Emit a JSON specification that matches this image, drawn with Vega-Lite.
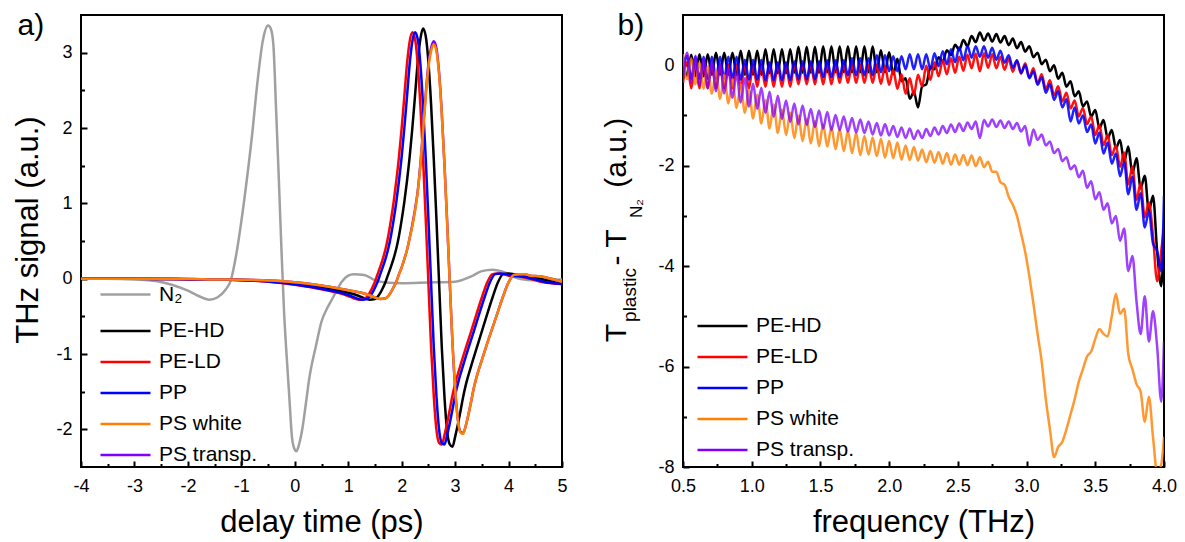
{
"$schema":"https://vega.github.io/schema/vega-lite/v6.json",
"padding":{"left":11,"top":9,"right":2,"bottom":2},
"config":{
 "font":"Liberation Sans",
 "locale":{"number":{"decimal":".","thousands":",","grouping":[3],"currency":["",""],"minus":"-"}},
 "view":{"stroke":"#000000","strokeWidth":2},
 "axis":{"grid":false,"domain":false,"tickColor":"#000000","tickWidth":2,"tickSize":-6,"labelFontSize":18,"labelColor":"#000000","labelFont":"Liberation Sans","titleFont":"Liberation Sans","titleFontSize":31,"titleFontWeight":"normal","titleColor":"#000000","labelFlush":false,"labelOverlap":false},
 "axisX":{"labelPadding":16},
 "axisY":{"labelPadding":15},
 "legend":{"orient":"none","title":null,"symbolType":"stroke","symbolSize":2500,"symbolStrokeWidth":2.5,"clipHeight":19,"labelFontSize":21,"labelFont":"Liberation Sans","labelColor":"#000000","rowPadding":9,"labelOffset":7,"padding":0,"labelLimit":300}
},
"spacing":31,
"hconcat":[
{
 "width":481,"height":452,
 "data":{"values":[
{"s":"N\u2082","t":-4,"v":0},{"s":"N\u2082","t":-3.5,"v":0},{"s":"N\u2082","t":-3,"v":-0.01},{"s":"N\u2082","t":-2.6,"v":-0.03},{"s":"N\u2082","t":-2.3,"v":-0.08},{"s":"N\u2082","t":-2,"v":-0.16},{"s":"N\u2082","t":-1.8,"v":-0.23},{"s":"N\u2082","t":-1.6,"v":-0.28},{"s":"N\u2082","t":-1.45,"v":-0.25},{"s":"N\u2082","t":-1.3,"v":-0.15},{"s":"N\u2082","t":-1.2,"v":-0.03},{"s":"N\u2082","t":-1.1,"v":0.3},{"s":"N\u2082","t":-1,"v":0.76},{"s":"N\u2082","t":-0.9,"v":1.3},{"s":"N\u2082","t":-0.8,"v":1.9},{"s":"N\u2082","t":-0.7,"v":2.6},{"s":"N\u2082","t":-0.6,"v":3.15},{"s":"N\u2082","t":-0.5,"v":3.36},{"s":"N\u2082","t":-0.45,"v":3.32},{"s":"N\u2082","t":-0.4,"v":3.1},{"s":"N\u2082","t":-0.35,"v":2.25},{"s":"N\u2082","t":-0.3,"v":1.35},{"s":"N\u2082","t":-0.25,"v":0.4},{"s":"N\u2082","t":-0.2,"v":-0.45},{"s":"N\u2082","t":-0.15,"v":-1.05},{"s":"N\u2082","t":-0.1,"v":-1.6},{"s":"N\u2082","t":-0.05,"v":-2.12},{"s":"N\u2082","t":0,"v":-2.27},{"s":"N\u2082","t":0.03,"v":-2.29},{"s":"N\u2082","t":0.08,"v":-2.2},{"s":"N\u2082","t":0.14,"v":-2.0},{"s":"N\u2082","t":0.2,"v":-1.7},{"s":"N\u2082","t":0.27,"v":-1.33},{"s":"N\u2082","t":0.4,"v":-0.88},{"s":"N\u2082","t":0.5,"v":-0.57},{"s":"N\u2082","t":0.6,"v":-0.4},{"s":"N\u2082","t":0.7,"v":-0.27},{"s":"N\u2082","t":0.88,"v":-0.04},{"s":"N\u2082","t":1.0,"v":0.04},{"s":"N\u2082","t":1.1,"v":0.06},{"s":"N\u2082","t":1.3,"v":0.05},{"s":"N\u2082","t":1.5,"v":-0.02},{"s":"N\u2082","t":1.7,"v":-0.05},{"s":"N\u2082","t":2,"v":-0.06},{"s":"N\u2082","t":2.5,"v":-0.05},{"s":"N\u2082","t":3,"v":-0.04},{"s":"N\u2082","t":3.3,"v":0.03},{"s":"N\u2082","t":3.5,"v":0.1},{"s":"N\u2082","t":3.7,"v":0.12},{"s":"N\u2082","t":3.9,"v":0.09},{"s":"N\u2082","t":4.2,"v":0},{"s":"N\u2082","t":4.5,"v":-0.02},{"s":"N\u2082","t":5,"v":-0.01},
{"s":"PE-HD","t":-4,"v":0},{"s":"PE-HD","t":-2.8,"v":0},{"s":"PE-HD","t":-1.8,"v":-0.01},{"s":"PE-HD","t":-0.8,"v":-0.02},{"s":"PE-HD","t":-0.3,"v":-0.04},{"s":"PE-HD","t":0.2,"v":-0.08},{"s":"PE-HD","t":0.7,"v":-0.14},{"s":"PE-HD","t":1.2,"v":-0.23},{"s":"PE-HD","t":1.3,"v":-0.26},{"s":"PE-HD","t":1.4,"v":-0.28},{"s":"PE-HD","t":1.5,"v":-0.27},{"s":"PE-HD","t":1.55,"v":-0.24},{"s":"PE-HD","t":1.6,"v":-0.19},{"s":"PE-HD","t":1.65,"v":-0.12},{"s":"PE-HD","t":1.7,"v":-0.04},{"s":"PE-HD","t":1.75,"v":0.06},{"s":"PE-HD","t":1.8,"v":0.16},{"s":"PE-HD","t":1.85,"v":0.27},{"s":"PE-HD","t":1.9,"v":0.4},{"s":"PE-HD","t":1.95,"v":0.57},{"s":"PE-HD","t":2,"v":0.78},{"s":"PE-HD","t":2.05,"v":1.02},{"s":"PE-HD","t":2.1,"v":1.3},{"s":"PE-HD","t":2.15,"v":1.62},{"s":"PE-HD","t":2.2,"v":2.0},{"s":"PE-HD","t":2.25,"v":2.43},{"s":"PE-HD","t":2.3,"v":2.87},{"s":"PE-HD","t":2.35,"v":3.18},{"s":"PE-HD","t":2.4,"v":3.32},{"s":"PE-HD","t":2.45,"v":3.22},{"s":"PE-HD","t":2.5,"v":2.88},{"s":"PE-HD","t":2.55,"v":2.32},{"s":"PE-HD","t":2.6,"v":1.6},{"s":"PE-HD","t":2.65,"v":0.8},{"s":"PE-HD","t":2.7,"v":-0.05},{"s":"PE-HD","t":2.75,"v":-0.9},{"s":"PE-HD","t":2.8,"v":-1.56},{"s":"PE-HD","t":2.85,"v":-2.02},{"s":"PE-HD","t":2.9,"v":-2.2},{"s":"PE-HD","t":2.95,"v":-2.23},{"s":"PE-HD","t":3,"v":-2.1},{"s":"PE-HD","t":3.05,"v":-1.94},{"s":"PE-HD","t":3.1,"v":-1.76},{"s":"PE-HD","t":3.15,"v":-1.57},{"s":"PE-HD","t":3.2,"v":-1.41},{"s":"PE-HD","t":3.3,"v":-1.16},{"s":"PE-HD","t":3.4,"v":-0.93},{"s":"PE-HD","t":3.5,"v":-0.7},{"s":"PE-HD","t":3.6,"v":-0.47},{"s":"PE-HD","t":3.7,"v":-0.25},{"s":"PE-HD","t":3.8,"v":-0.05},{"s":"PE-HD","t":3.9,"v":0.06},{"s":"PE-HD","t":4,"v":0.07},{"s":"PE-HD","t":4.1,"v":0.06},{"s":"PE-HD","t":4.2,"v":0.04},{"s":"PE-HD","t":4.4,"v":0.03},{"s":"PE-HD","t":4.6,"v":0},{"s":"PE-HD","t":4.8,"v":-0.04},{"s":"PE-HD","t":5,"v":-0.06},
{"s":"PE-LD","t":-4,"v":0},{"s":"PE-LD","t":-3,"v":0},{"s":"PE-LD","t":-2,"v":-0.01},{"s":"PE-LD","t":-1,"v":-0.02},{"s":"PE-LD","t":-0.5,"v":-0.04},{"s":"PE-LD","t":0,"v":-0.08},{"s":"PE-LD","t":0.5,"v":-0.14},{"s":"PE-LD","t":1,"v":-0.23},{"s":"PE-LD","t":1.1,"v":-0.26},{"s":"PE-LD","t":1.2,"v":-0.28},{"s":"PE-LD","t":1.3,"v":-0.27},{"s":"PE-LD","t":1.35,"v":-0.24},{"s":"PE-LD","t":1.4,"v":-0.19},{"s":"PE-LD","t":1.45,"v":-0.12},{"s":"PE-LD","t":1.5,"v":-0.04},{"s":"PE-LD","t":1.55,"v":0.06},{"s":"PE-LD","t":1.6,"v":0.16},{"s":"PE-LD","t":1.65,"v":0.27},{"s":"PE-LD","t":1.7,"v":0.4},{"s":"PE-LD","t":1.75,"v":0.57},{"s":"PE-LD","t":1.8,"v":0.78},{"s":"PE-LD","t":1.85,"v":1.02},{"s":"PE-LD","t":1.9,"v":1.3},{"s":"PE-LD","t":1.95,"v":1.62},{"s":"PE-LD","t":2,"v":2.0},{"s":"PE-LD","t":2.05,"v":2.42},{"s":"PE-LD","t":2.1,"v":2.85},{"s":"PE-LD","t":2.15,"v":3.15},{"s":"PE-LD","t":2.2,"v":3.27},{"s":"PE-LD","t":2.25,"v":3.18},{"s":"PE-LD","t":2.3,"v":2.85},{"s":"PE-LD","t":2.35,"v":2.3},{"s":"PE-LD","t":2.4,"v":1.6},{"s":"PE-LD","t":2.45,"v":0.8},{"s":"PE-LD","t":2.5,"v":-0.05},{"s":"PE-LD","t":2.55,"v":-0.9},{"s":"PE-LD","t":2.6,"v":-1.55},{"s":"PE-LD","t":2.65,"v":-2.0},{"s":"PE-LD","t":2.7,"v":-2.18},{"s":"PE-LD","t":2.75,"v":-2.2},{"s":"PE-LD","t":2.8,"v":-2.08},{"s":"PE-LD","t":2.85,"v":-1.92},{"s":"PE-LD","t":2.9,"v":-1.74},{"s":"PE-LD","t":2.95,"v":-1.55},{"s":"PE-LD","t":3,"v":-1.4},{"s":"PE-LD","t":3.1,"v":-1.15},{"s":"PE-LD","t":3.2,"v":-0.92},{"s":"PE-LD","t":3.3,"v":-0.7},{"s":"PE-LD","t":3.4,"v":-0.47},{"s":"PE-LD","t":3.5,"v":-0.25},{"s":"PE-LD","t":3.6,"v":-0.05},{"s":"PE-LD","t":3.7,"v":0.06},{"s":"PE-LD","t":3.8,"v":0.07},{"s":"PE-LD","t":3.9,"v":0.06},{"s":"PE-LD","t":4,"v":0.04},{"s":"PE-LD","t":4.2,"v":0.03},{"s":"PE-LD","t":4.4,"v":0},{"s":"PE-LD","t":4.6,"v":-0.04},{"s":"PE-LD","t":4.8,"v":-0.06},{"s":"PE-LD","t":5,"v":-0.07},
{"s":"PP","t":-4,"v":0},{"s":"PP","t":-2.95,"v":0},{"s":"PP","t":-1.95,"v":-0.01},{"s":"PP","t":-0.95,"v":-0.02},{"s":"PP","t":-0.45,"v":-0.04},{"s":"PP","t":0.05,"v":-0.08},{"s":"PP","t":0.55,"v":-0.14},{"s":"PP","t":1.05,"v":-0.23},{"s":"PP","t":1.15,"v":-0.26},{"s":"PP","t":1.25,"v":-0.28},{"s":"PP","t":1.35,"v":-0.27},{"s":"PP","t":1.4,"v":-0.24},{"s":"PP","t":1.45,"v":-0.19},{"s":"PP","t":1.5,"v":-0.12},{"s":"PP","t":1.55,"v":-0.04},{"s":"PP","t":1.6,"v":0.06},{"s":"PP","t":1.65,"v":0.16},{"s":"PP","t":1.7,"v":0.27},{"s":"PP","t":1.75,"v":0.4},{"s":"PP","t":1.8,"v":0.57},{"s":"PP","t":1.85,"v":0.78},{"s":"PP","t":1.9,"v":1.02},{"s":"PP","t":1.95,"v":1.3},{"s":"PP","t":2,"v":1.62},{"s":"PP","t":2.05,"v":2.0},{"s":"PP","t":2.1,"v":2.42},{"s":"PP","t":2.15,"v":2.85},{"s":"PP","t":2.2,"v":3.15},{"s":"PP","t":2.25,"v":3.27},{"s":"PP","t":2.3,"v":3.18},{"s":"PP","t":2.35,"v":2.85},{"s":"PP","t":2.4,"v":2.3},{"s":"PP","t":2.45,"v":1.6},{"s":"PP","t":2.5,"v":0.8},{"s":"PP","t":2.55,"v":-0.05},{"s":"PP","t":2.6,"v":-0.9},{"s":"PP","t":2.65,"v":-1.55},{"s":"PP","t":2.7,"v":-2.0},{"s":"PP","t":2.75,"v":-2.18},{"s":"PP","t":2.8,"v":-2.2},{"s":"PP","t":2.85,"v":-2.08},{"s":"PP","t":2.9,"v":-1.92},{"s":"PP","t":2.95,"v":-1.74},{"s":"PP","t":3,"v":-1.55},{"s":"PP","t":3.05,"v":-1.4},{"s":"PP","t":3.15,"v":-1.15},{"s":"PP","t":3.25,"v":-0.92},{"s":"PP","t":3.35,"v":-0.7},{"s":"PP","t":3.45,"v":-0.47},{"s":"PP","t":3.55,"v":-0.25},{"s":"PP","t":3.65,"v":-0.05},{"s":"PP","t":3.75,"v":0.06},{"s":"PP","t":3.85,"v":0.07},{"s":"PP","t":3.95,"v":0.06},{"s":"PP","t":4.05,"v":0.04},{"s":"PP","t":4.25,"v":0.03},{"s":"PP","t":4.45,"v":0},{"s":"PP","t":4.65,"v":-0.04},{"s":"PP","t":4.85,"v":-0.06},{"s":"PP","t":5,"v":-0.07},
{"s":"PS transp.","t":-4,"v":0},{"s":"PS transp.","t":-2.6,"v":0},{"s":"PS transp.","t":-1.6,"v":-0.01},{"s":"PS transp.","t":-0.6,"v":-0.02},{"s":"PS transp.","t":-0.1,"v":-0.04},{"s":"PS transp.","t":0.4,"v":-0.08},{"s":"PS transp.","t":0.9,"v":-0.14},{"s":"PS transp.","t":1.4,"v":-0.22},{"s":"PS transp.","t":1.5,"v":-0.25},{"s":"PS transp.","t":1.6,"v":-0.27},{"s":"PS transp.","t":1.7,"v":-0.26},{"s":"PS transp.","t":1.75,"v":-0.23},{"s":"PS transp.","t":1.8,"v":-0.18},{"s":"PS transp.","t":1.85,"v":-0.11},{"s":"PS transp.","t":1.9,"v":-0.04},{"s":"PS transp.","t":1.95,"v":0.06},{"s":"PS transp.","t":2,"v":0.15},{"s":"PS transp.","t":2.05,"v":0.26},{"s":"PS transp.","t":2.1,"v":0.38},{"s":"PS transp.","t":2.15,"v":0.54},{"s":"PS transp.","t":2.2,"v":0.72},{"s":"PS transp.","t":2.25,"v":0.92},{"s":"PS transp.","t":2.3,"v":1.16},{"s":"PS transp.","t":2.35,"v":1.52},{"s":"PS transp.","t":2.4,"v":1.97},{"s":"PS transp.","t":2.45,"v":2.45},{"s":"PS transp.","t":2.5,"v":2.84},{"s":"PS transp.","t":2.55,"v":3.06},{"s":"PS transp.","t":2.6,"v":3.15},{"s":"PS transp.","t":2.65,"v":3.06},{"s":"PS transp.","t":2.7,"v":2.74},{"s":"PS transp.","t":2.75,"v":2.21},{"s":"PS transp.","t":2.8,"v":1.53},{"s":"PS transp.","t":2.85,"v":0.77},{"s":"PS transp.","t":2.9,"v":-0.05},{"s":"PS transp.","t":2.95,"v":-0.84},{"s":"PS transp.","t":3,"v":-1.45},{"s":"PS transp.","t":3.05,"v":-1.86},{"s":"PS transp.","t":3.1,"v":-2.03},{"s":"PS transp.","t":3.15,"v":-2.05},{"s":"PS transp.","t":3.2,"v":-1.95},{"s":"PS transp.","t":3.25,"v":-1.8},{"s":"PS transp.","t":3.3,"v":-1.63},{"s":"PS transp.","t":3.35,"v":-1.45},{"s":"PS transp.","t":3.4,"v":-1.31},{"s":"PS transp.","t":3.5,"v":-1.08},{"s":"PS transp.","t":3.6,"v":-0.86},{"s":"PS transp.","t":3.7,"v":-0.65},{"s":"PS transp.","t":3.8,"v":-0.44},{"s":"PS transp.","t":3.9,"v":-0.23},{"s":"PS transp.","t":4,"v":-0.05},{"s":"PS transp.","t":4.1,"v":0.05},{"s":"PS transp.","t":4.2,"v":0.06},{"s":"PS transp.","t":4.3,"v":0.06},{"s":"PS transp.","t":4.4,"v":0.04},{"s":"PS transp.","t":4.6,"v":0.03},{"s":"PS transp.","t":4.8,"v":0},{"s":"PS transp.","t":5,"v":-0.04},
{"s":"PS white","t":-4,"v":0},{"s":"PS white","t":-2.6,"v":0},{"s":"PS white","t":-1.6,"v":-0.01},{"s":"PS white","t":-0.6,"v":-0.02},{"s":"PS white","t":-0.1,"v":-0.04},{"s":"PS white","t":0.4,"v":-0.08},{"s":"PS white","t":0.9,"v":-0.14},{"s":"PS white","t":1.4,"v":-0.22},{"s":"PS white","t":1.5,"v":-0.25},{"s":"PS white","t":1.6,"v":-0.27},{"s":"PS white","t":1.7,"v":-0.26},{"s":"PS white","t":1.75,"v":-0.23},{"s":"PS white","t":1.8,"v":-0.18},{"s":"PS white","t":1.85,"v":-0.11},{"s":"PS white","t":1.9,"v":-0.04},{"s":"PS white","t":1.95,"v":0.06},{"s":"PS white","t":2,"v":0.15},{"s":"PS white","t":2.05,"v":0.26},{"s":"PS white","t":2.1,"v":0.38},{"s":"PS white","t":2.15,"v":0.54},{"s":"PS white","t":2.2,"v":0.7},{"s":"PS white","t":2.25,"v":0.9},{"s":"PS white","t":2.3,"v":1.15},{"s":"PS white","t":2.35,"v":1.5},{"s":"PS white","t":2.4,"v":1.95},{"s":"PS white","t":2.45,"v":2.42},{"s":"PS white","t":2.5,"v":2.8},{"s":"PS white","t":2.55,"v":3.02},{"s":"PS white","t":2.6,"v":3.11},{"s":"PS white","t":2.65,"v":3.02},{"s":"PS white","t":2.7,"v":2.71},{"s":"PS white","t":2.75,"v":2.19},{"s":"PS white","t":2.8,"v":1.52},{"s":"PS white","t":2.85,"v":0.76},{"s":"PS white","t":2.9,"v":-0.05},{"s":"PS white","t":2.95,"v":-0.84},{"s":"PS white","t":3,"v":-1.45},{"s":"PS white","t":3.05,"v":-1.87},{"s":"PS white","t":3.1,"v":-2.04},{"s":"PS white","t":3.15,"v":-2.06},{"s":"PS white","t":3.2,"v":-1.95},{"s":"PS white","t":3.25,"v":-1.8},{"s":"PS white","t":3.3,"v":-1.63},{"s":"PS white","t":3.35,"v":-1.45},{"s":"PS white","t":3.4,"v":-1.31},{"s":"PS white","t":3.5,"v":-1.08},{"s":"PS white","t":3.6,"v":-0.86},{"s":"PS white","t":3.7,"v":-0.65},{"s":"PS white","t":3.8,"v":-0.44},{"s":"PS white","t":3.9,"v":-0.23},{"s":"PS white","t":4,"v":-0.05},{"s":"PS white","t":4.1,"v":0.05},{"s":"PS white","t":4.2,"v":0.06},{"s":"PS white","t":4.3,"v":0.06},{"s":"PS white","t":4.4,"v":0.04},{"s":"PS white","t":4.6,"v":0.03},{"s":"PS white","t":4.8,"v":0},{"s":"PS white","t":5,"v":-0.04}
 ]},
 "layer":[
  {"transform":[{"filter":{"field":"s","equal":"N\u2082"}}],
   "mark":{"type":"line","strokeWidth":2.5,"interpolate":"monotone"},
   "encoding":{
    "x":{"field":"t","type":"quantitative","scale":{"domain":[-4,5],"nice":false,"zero":false},"axis":null},
    "y":{"field":"v","type":"quantitative","scale":{"domain":[-2.5,3.5],"nice":false,"zero":false},"axis":null},
    "color":{"field":"s","type":"nominal","scale":{"domain":["N\u2082"],"range":["#a0a0a0"]},"legend":{"legendX":18,"legendY":270}}
   }},
  {"transform":[{"filter":{"not":{"field":"s","equal":"N\u2082"}}}],
   "mark":{"type":"line","strokeWidth":2.5,"interpolate":"monotone"},
   "encoding":{
    "x":{"field":"t","type":"quantitative","scale":{"domain":[-4,5],"nice":false,"zero":false},"axis":{"orient":"bottom","values":[-4,-3,-2,-1,0,1,2,3,4,5],"format":"d","title":"delay time (ps)","titleX":240.5,"titleY":64,"titleBaseline":"alphabetic"}},
    "y":{"field":"v","type":"quantitative","scale":{"domain":[-2.5,3.5],"nice":false,"zero":false},"axis":{"orient":"left","values":[-2,-1,0,1,2,3],"format":"d","title":"THz signal (a.u.)","titleX":-44,"titleY":214.5,"titleBaseline":"alphabetic","titleAngle":-90,"titleAlign":"center"}},
    "color":{"field":"s","type":"nominal","scale":{"domain":["PE-HD","PE-LD","PP","PS white","PS transp."],"range":["#000000","#ff0000","#0000ff","#ff8000","#8000ff"]},"legend":{"legendX":18,"legendY":306.5}}
   }},
  {"mark":{"type":"point","opacity":0,"clip":true},
   "encoding":{
    "x":{"field":"t","type":"quantitative","scale":{"domain":[-4,5],"nice":false,"zero":false},"axis":{"orient":"bottom","values":[-3.5,-2.5,-1.5,-0.5,0.5,1.5,2.5,3.5,4.5],"labels":false,"tickSize":-3.5,"title":"a)","titleFontSize":30,"titleAngle":0,"titleAlign":"left","titleBaseline":"alphabetic","titleX":-64,"titleY":-433}},
    "y":{"field":"v","type":"quantitative","scale":{"domain":[-2.5,3.5],"nice":false,"zero":false},"axis":{"orient":"left","values":[-1.5,-0.5,0.5,1.5,2.5],"labels":false,"title":null,"tickSize":-3.5}}
   }}
 ],
 "resolve":{"scale":{"color":"independent"},"axis":{"x":"independent","y":"independent"}}
},
{
 "width":481,"height":452,
 "data":{"values":[
{"f":0.50,"HD":0.16,"LD":-0.35,"PP":-0.2,"PSW":0.22,"PST":-0.25},
{"f":0.53,"HD":-0.21,"LD":0.06,"PP":0.19,"PSW":-0.28,"PST":0.25},
{"f":0.56,"HD":0.21,"LD":-0.46,"PP":-0.27,"PSW":0.14,"PST":-0.34},
{"f":0.59,"HD":-0.22,"LD":0.02,"PP":0.17,"PSW":-0.38,"PST":0.19},
{"f":0.62,"HD":0.22,"LD":-0.46,"PP":-0.27,"PSW":0.06,"PST":-0.4},
{"f":0.65,"HD":-0.22,"LD":0.02,"PP":0.17,"PSW":-0.47,"PST":0.13},
{"f":0.68,"HD":0.22,"LD":-0.46,"PP":-0.27,"PSW":-0.02,"PST":-0.46},
{"f":0.71,"HD":-0.19,"LD":0.02,"PP":0.17,"PSW":-0.57,"PST":0.07},
{"f":0.74,"HD":0.25,"LD":-0.46,"PP":-0.27,"PSW":-0.11,"PST":-0.52},
{"f":0.77,"HD":-0.19,"LD":0.02,"PP":0.17,"PSW":-0.67,"PST":0.01},
{"f":0.80,"HD":0.25,"LD":-0.46,"PP":-0.27,"PSW":-0.19,"PST":-0.56},
{"f":0.83,"HD":-0.19,"LD":0.02,"PP":0.17,"PSW":-0.76,"PST":-0.08},
{"f":0.86,"HD":0.25,"LD":-0.46,"PP":-0.27,"PSW":-0.28,"PST":-0.65},
{"f":0.89,"HD":-0.19,"LD":0.02,"PP":0.17,"PSW":-0.85,"PST":-0.17},
{"f":0.92,"HD":0.29,"LD":-0.46,"PP":-0.29,"PSW":-0.38,"PST":-0.74},
{"f":0.95,"HD":-0.19,"LD":0.02,"PP":0.11,"PSW":-0.95,"PST":-0.26},
{"f":0.98,"HD":0.29,"LD":-0.46,"PP":-0.29,"PSW":-0.49,"PST":-0.82},
{"f":1.01,"HD":-0.19,"LD":0.01,"PP":0.11,"PSW":-1.06,"PST":-0.37},
{"f":1.04,"HD":0.29,"LD":-0.43,"PP":-0.29,"PSW":-0.59,"PST":-0.87},
{"f":1.07,"HD":-0.19,"LD":0.01,"PP":0.11,"PSW":-1.16,"PST":-0.45},
{"f":1.10,"HD":0.32,"LD":-0.43,"PP":-0.3,"PSW":-0.69,"PST":-0.95},
{"f":1.13,"HD":-0.16,"LD":0.01,"PP":0.06,"PSW":-1.26,"PST":-0.53},
{"f":1.16,"HD":0.32,"LD":-0.43,"PP":-0.3,"PSW":-0.78,"PST":-1.03},
{"f":1.19,"HD":-0.16,"LD":0.01,"PP":0.06,"PSW":-1.35,"PST":-0.61},
{"f":1.22,"HD":0.32,"LD":-0.43,"PP":-0.3,"PSW":-0.88,"PST":-1.07},
{"f":1.25,"HD":-0.16,"LD":0.01,"PP":0.06,"PSW":-1.39,"PST":-0.7},
{"f":1.28,"HD":0.32,"LD":-0.43,"PP":-0.3,"PSW":-0.94,"PST":-1.13},
{"f":1.31,"HD":-0.15,"LD":0.02,"PP":0.08,"PSW":-1.45,"PST":-0.76},
{"f":1.34,"HD":0.37,"LD":-0.38,"PP":-0.28,"PSW":-1.0,"PST":-1.18},
{"f":1.37,"HD":-0.15,"LD":0.02,"PP":0.08,"PSW":-1.51,"PST":-0.8},
{"f":1.40,"HD":0.37,"LD":-0.38,"PP":-0.28,"PSW":-1.06,"PST":-1.19},
{"f":1.43,"HD":-0.15,"LD":0.02,"PP":0.08,"PSW":-1.56,"PST":-0.87},
{"f":1.46,"HD":0.37,"LD":-0.38,"PP":-0.28,"PSW":-1.11,"PST":-1.23},
{"f":1.49,"HD":-0.15,"LD":0.02,"PP":0.08,"PSW":-1.61,"PST":-0.9},
{"f":1.52,"HD":0.38,"LD":-0.38,"PP":-0.24,"PSW":-1.18,"PST":-1.26},
{"f":1.55,"HD":-0.14,"LD":0.02,"PP":0.1,"PSW":-1.62,"PST":-0.93},
{"f":1.58,"HD":0.38,"LD":-0.38,"PP":-0.24,"PSW":-1.23,"PST":-1.29},
{"f":1.61,"HD":-0.14,"LD":0.01,"PP":0.1,"PSW":-1.67,"PST":-0.99},
{"f":1.64,"HD":0.38,"LD":-0.35,"PP":-0.24,"PSW":-1.27,"PST":-1.29},
{"f":1.67,"HD":-0.14,"LD":0.01,"PP":0.1,"PSW":-1.71,"PST":-1.02},
{"f":1.70,"HD":0.38,"LD":-0.35,"PP":-0.2,"PSW":-1.31,"PST":-1.32},
{"f":1.73,"HD":-0.14,"LD":0.01,"PP":0.14,"PSW":-1.75,"PST":-1.05},
{"f":1.76,"HD":0.38,"LD":-0.35,"PP":-0.2,"PSW":-1.35,"PST":-1.34},
{"f":1.79,"HD":-0.14,"LD":0.01,"PP":0.14,"PSW":-1.79,"PST":-1.08},
{"f":1.82,"HD":0.38,"LD":-0.35,"PP":-0.2,"PSW":-1.41,"PST":-1.35},
{"f":1.85,"HD":-0.14,"LD":0.01,"PP":0.14,"PSW":-1.78,"PST":-1.12},
{"f":1.88,"HD":0.38,"LD":-0.35,"PP":-0.2,"PSW":-1.44,"PST":-1.38},
{"f":1.91,"HD":-0.14,"LD":0.01,"PP":0.2,"PSW":-1.81,"PST":-1.15},
{"f":1.94,"HD":0.3,"LD":-0.37,"PP":-0.14,"PSW":-1.47,"PST":-1.4},
{"f":1.97,"HD":-0.14,"LD":-0.02,"PP":0.2,"PSW":-1.84,"PST":-1.17},
{"f":2.00,"HD":0.26,"LD":-0.39,"PP":-0.12,"PSW":-1.51,"PST":-1.4},
{"f":2.03,"HD":-0.18,"LD":-0.09,"PP":0.18,"PSW":-1.85,"PST":-1.21},
{"f":2.06,"HD":0.13,"LD":-0.47,"PP":-0.12,"PSW":-1.54,"PST":-1.43},
{"f":2.09,"HD":-0.32,"LD":-0.18,"PP":0.18,"PSW":-1.88,"PST":-1.24},
{"f":2.12,"HD":-0.26,"LD":-0.57,"PP":-0.08,"PSW":-1.6,"PST":-1.45},
{"f":2.15,"HD":-0.67,"LD":-0.26,"PP":0.22,"PSW":-1.89,"PST":-1.26},
{"f":2.18,"HD":-0.53,"LD":-0.59,"PP":-0.08,"PSW":-1.63,"PST":-1.47},
{"f":2.21,"HD":-0.84,"LD":-0.19,"PP":0.22,"PSW":-1.9,"PST":-1.3},
{"f":2.24,"HD":-0.42,"LD":-0.42,"PP":-0.08,"PSW":-1.68,"PST":-1.45},
{"f":2.27,"HD":-0.38,"LD":-0.01,"PP":0.22,"PSW":-1.93,"PST":-1.27},
{"f":2.30,"HD":-0.04,"LD":-0.29,"PP":-0.08,"PSW":-1.71,"PST":-1.41},
{"f":2.33,"HD":-0.08,"LD":0.06,"PP":0.24,"PSW":-1.94,"PST":-1.24},
{"f":2.36,"HD":0.16,"LD":-0.22,"PP":-0.02,"PSW":-1.73,"PST":-1.38},
{"f":2.39,"HD":0.07,"LD":0.1,"PP":0.28,"PSW":-1.96,"PST":-1.21},
{"f":2.42,"HD":0.3,"LD":-0.18,"PP":0.02,"PSW":-1.75,"PST":-1.35},
{"f":2.45,"HD":0.2,"LD":0.14,"PP":0.32,"PSW":-1.98,"PST":-1.18},
{"f":2.48,"HD":0.41,"LD":-0.15,"PP":0.06,"PSW":-1.78,"PST":-1.33},
{"f":2.51,"HD":0.3,"LD":0.17,"PP":0.36,"PSW":-1.98,"PST":-1.16},
{"f":2.54,"HD":0.5,"LD":-0.11,"PP":0.1,"PSW":-1.79,"PST":-1.31},
{"f":2.57,"HD":0.38,"LD":0.21,"PP":0.39,"PSW":-1.99,"PST":-1.14},
{"f":2.60,"HD":0.58,"LD":-0.06,"PP":0.15,"PSW":-1.8,"PST":-1.27},
{"f":2.63,"HD":0.46,"LD":0.23,"PP":0.38,"PSW":-2.01,"PST":-1.12},
{"f":2.66,"HD":0.65,"LD":-0.12,"PP":0.17,"PSW":-1.83,"PST":-1.45},
{"f":2.69,"HD":0.49,"LD":0.24,"PP":0.38,"PSW":-2.03,"PST":-1.09},
{"f":2.72,"HD":0.63,"LD":-0.05,"PP":0.15,"PSW":-1.92,"PST":-1.22},
{"f":2.75,"HD":0.47,"LD":0.22,"PP":0.35,"PSW":-2.12,"PST":-1.08},
{"f":2.78,"HD":0.62,"LD":-0.06,"PP":0.11,"PSW":-2.12,"PST":-1.23},
{"f":2.81,"HD":0.45,"LD":0.17,"PP":0.29,"PSW":-2.33,"PST":-1.1},
{"f":2.84,"HD":0.58,"LD":-0.09,"PP":0.05,"PSW":-2.38,"PST":-1.25},
{"f":2.87,"HD":0.4,"LD":0.13,"PP":0.2,"PSW":-2.62,"PST":-1.12},
{"f":2.90,"HD":0.53,"LD":-0.13,"PP":-0.05,"PSW":-2.78,"PST":-1.27},
{"f":2.93,"HD":0.34,"LD":0.09,"PP":0.1,"PSW":-3.0,"PST":-1.15},
{"f":2.96,"HD":0.46,"LD":-0.17,"PP":-0.15,"PSW":-3.35,"PST":-1.32},
{"f":2.99,"HD":0.27,"LD":0.04,"PP":0.0,"PSW":-3.72,"PST":-1.21},
{"f":3.02,"HD":0.38,"LD":-0.24,"PP":-0.26,"PSW":-4.2,"PST":-1.6},
{"f":3.05,"HD":0.16,"LD":-0.06,"PP":-0.12,"PSW":-4.75,"PST":-1.28},
{"f":3.08,"HD":0.25,"LD":-0.36,"PP":-0.39,"PSW":-5.35,"PST":-1.49},
{"f":3.11,"HD":0.02,"LD":-0.18,"PP":-0.24,"PSW":-5.9,"PST":-1.38},
{"f":3.14,"HD":0.11,"LD":-0.48,"PP":-0.55,"PSW":-6.65,"PST":-1.6},
{"f":3.17,"HD":-0.12,"LD":-0.3,"PP":-0.38,"PSW":-7.25,"PST":-1.52},
{"f":3.20,"HD":0.0,"LD":-0.6,"PP":-0.69,"PSW":-7.8,"PST":-1.75},
{"f":3.23,"HD":-0.27,"LD":-0.42,"PP":-0.52,"PSW":-7.6,"PST":-1.67},
{"f":3.26,"HD":-0.15,"LD":-0.72,"PP":-0.84,"PSW":-7.5,"PST":-1.91},
{"f":3.29,"HD":-0.43,"LD":-0.55,"PP":-0.68,"PSW":-7.25,"PST":-1.83},
{"f":3.32,"HD":-0.32,"LD":-0.86,"PP":-1.12,"PSW":-6.95,"PST":-2.07},
{"f":3.35,"HD":-0.62,"LD":-0.7,"PP":-0.84,"PSW":-6.65,"PST":-1.99},
{"f":3.38,"HD":-0.52,"LD":-1.02,"PP":-1.16,"PSW":-6.3,"PST":-2.23},
{"f":3.41,"HD":-0.82,"LD":-0.85,"PP":-1.0,"PSW":-6.05,"PST":-2.1},
{"f":3.44,"HD":-0.72,"LD":-1.17,"PP":-1.33,"PSW":-5.8,"PST":-2.44},
{"f":3.47,"HD":-1.02,"LD":-1.02,"PP":-1.18,"PSW":-5.7,"PST":-2.31},
{"f":3.50,"HD":-0.89,"LD":-1.39,"PP":-1.56,"PSW":-5.45,"PST":-2.67},
{"f":3.53,"HD":-1.25,"LD":-1.19,"PP":-1.34,"PSW":-5.25,"PST":-2.53},
{"f":3.56,"HD":-1.09,"LD":-1.59,"PP":-1.76,"PSW":-5.35,"PST":-2.88},
{"f":3.59,"HD":-1.45,"LD":-1.39,"PP":-1.54,"PSW":-5.4,"PST":-2.75},
{"f":3.62,"HD":-1.29,"LD":-1.79,"PP":-1.96,"PSW":-5.0,"PST":-3.15},
{"f":3.65,"HD":-1.65,"LD":-1.6,"PP":-1.76,"PSW":-4.55,"PST":-3.0},
{"f":3.68,"HD":-1.49,"LD":-2.02,"PP":-2.21,"PSW":-4.95,"PST":-3.5},
{"f":3.71,"HD":-1.92,"LD":-1.74,"PP":-1.93,"PSW":-4.85,"PST":-3.25},
{"f":3.74,"HD":-1.62,"LD":-2.37,"PP":-2.57,"PSW":-5.75,"PST":-4.1},
{"f":3.77,"HD":-2.15,"LD":-2.02,"PP":-2.22,"PSW":-6.05,"PST":-3.8},
{"f":3.80,"HD":-1.85,"LD":-2.68,"PP":-2.88,"PSW":-6.35,"PST":-4.7},
{"f":3.83,"HD":-2.45,"LD":-2.35,"PP":-2.55,"PSW":-6.5,"PST":-5.35},
{"f":3.86,"HD":-2.2,"LD":-3.03,"PP":-3.23,"PSW":-7.1,"PST":-4.6},
{"f":3.89,"HD":-2.9,"LD":-2.73,"PP":-2.91,"PSW":-6.6,"PST":-5.5},
{"f":3.92,"HD":-2.6,"LD":-3.4,"PP":-3.55,"PSW":-7.4,"PST":-4.9},
{"f":3.95,"HD":-3.7,"LD":-4.3,"PP":-3.7,"PSW":-8.1,"PST":-5.6},
{"f":3.98,"HD":-4.4,"LD":-3.7,"PP":-4.1,"PSW":-7.95,"PST":-6.7},
{"f":4.00,"HD":-3.3,"LD":-3.2,"PP":-2.6,"PSW":-7.4,"PST":-5.5}
 ]},
 "transform":[{"fold":["HD","LD","PP","PSW","PST"],"as":["s","v"]}],
 "layer":[
  {"mark":{"type":"line","strokeWidth":2.5,"interpolate":"monotone","clip":true},
   "encoding":{
    "x":{"field":"f","type":"quantitative","scale":{"domain":[0.5,4],"nice":false,"zero":false},"axis":{"orient":"bottom","values":[0.5,1,1.5,2,2.5,3,3.5,4],"format":".1f","title":"frequency (THz)","titleX":240.5,"titleY":64,"titleBaseline":"alphabetic"}},
    "y":{"field":"v","type":"quantitative","scale":{"domain":[-8,1],"nice":false,"zero":false},"axis":{"orient":"left","values":[-8,-6,-4,-2,0],"format":"d","title":"T\u00a0\u00a0\u00a0\u00a0\u00a0\u00a0\u00a0- T\u00a0\u00a0\u00a0\u00a0\u00a0(a.u.)","titleFontSize":30,"titleX":-58,"titleY":214.5,"titleBaseline":"alphabetic","titleAngle":-90,"titleAlign":"center"}},
    "color":{"field":"s","type":"nominal","scale":{"domain":["HD","LD","PP","PSW","PST"],"range":["#000000","#ff0000","#0000ff","#ff8000","#8000ff"]},"legend":{"legendX":615,"legendY":301.5,"labelExpr":"datum.label=='HD'?'PE-HD':datum.label=='LD'?'PE-LD':datum.label=='PSW'?'PS white':datum.label=='PST'?'PS transp.':datum.label"}},
    "strokeOpacity":{"field":"s","type":"nominal","scale":{"domain":["HD","LD","PP","PSW","PST"],"range":[1,0.75,0.7,1,1]},"legend":{"legendX":615,"legendY":301.5,"labelExpr":"datum.label=='HD'?'PE-HD':datum.label=='LD'?'PE-LD':datum.label=='PSW'?'PS white':datum.label=='PST'?'PS transp.':datum.label"}}
   }},
  {"mark":{"type":"point","opacity":0,"clip":true},
   "encoding":{
    "x":{"field":"f","type":"quantitative","scale":{"domain":[0.5,4],"nice":false,"zero":false},"axis":{"orient":"bottom","values":[0.75,1.25,1.75,2.25,2.75,3.25,3.75],"labels":false,"tickSize":-3.5,"title":"b)","titleFontSize":30,"titleAngle":0,"titleAlign":"left","titleBaseline":"alphabetic","titleX":-66,"titleY":-433}},
    "y":{"field":"v","type":"quantitative","scale":{"domain":[-8,1],"nice":false,"zero":false},"axis":{"orient":"left","values":[-7,-5,-3,-1],"labels":false,"tickSize":-3.5,"title":"plastic","titleFontSize":19,"titleX":-48,"titleY":279.5,"titleBaseline":"alphabetic","titleAngle":-90,"titleAlign":"center"}}
   }},
  {"mark":{"type":"point","opacity":0,"clip":true},
   "encoding":{
    "x":{"field":"f","type":"quantitative","scale":{"domain":[0.5,4],"nice":false,"zero":false},"axis":null},
    "y":{"field":"v","type":"quantitative","scale":{"domain":[-8,1],"nice":false,"zero":false},"axis":{"orient":"left","ticks":false,"labels":false,"title":"N\u2082","titleFontSize":17,"titleX":-42,"titleY":193,"titleBaseline":"alphabetic","titleAngle":-90,"titleAlign":"center"}}
   }}
 ],
 "resolve":{"axis":{"x":"independent","y":"independent"}}
}
]
}
